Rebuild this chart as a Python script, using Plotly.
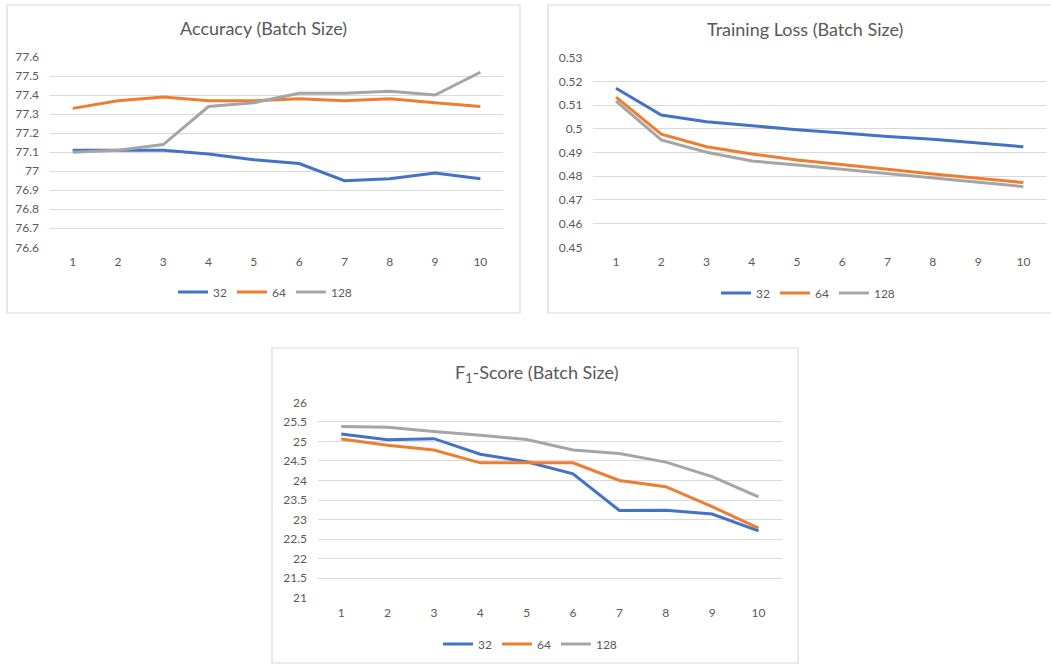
import plotly.graph_objects as go

# ---- data -------------------------------------------------------------
epochs = list(range(1, 11))
batch_sizes = ["32", "64", "128"]

acc_32 = [77.11, 77.11, 77.11, 77.09, 77.06, 77.04, 76.95, 76.96, 76.99, 76.96]
acc_64 = [77.33, 77.37, 77.39, 77.37, 77.37, 77.38, 77.37, 77.38, 77.36, 77.34]
acc_128 = [77.10, 77.11, 77.14, 77.34, 77.36, 77.41, 77.41, 77.42, 77.40, 77.52]

loss_32 = [0.5171, 0.5058, 0.5030, 0.5012, 0.4996, 0.4982, 0.4967, 0.4956, 0.4941, 0.4924]
loss_64 = [0.5134, 0.4977, 0.4924, 0.4894, 0.4868, 0.4847, 0.4829, 0.4809, 0.4791, 0.4773]
loss_128 = [0.5117, 0.4953, 0.4901, 0.4864, 0.4847, 0.4829, 0.4812, 0.4794, 0.4776, 0.4756]

f1_32 = [25.19, 25.04, 25.07, 24.67, 24.48, 24.17, 23.23, 23.24, 23.14, 22.71]
f1_64 = [25.06, 24.90, 24.78, 24.45, 24.45, 24.45, 24.00, 23.84, 23.33, 22.78]
f1_128 = [25.38, 25.36, 25.25, 25.16, 25.05, 24.78, 24.69, 24.47, 24.10, 23.58]

acc_ticks = [76.6, 76.7, 76.8, 76.9, 77.0, 77.1, 77.2, 77.3, 77.4, 77.5, 77.6]
acc_tick_labels = ["76.6", "76.7", "76.8", "76.9", "77", "77.1", "77.2", "77.3", "77.4", "77.5", "77.6"]
loss_ticks = [0.45, 0.46, 0.47, 0.48, 0.49, 0.50, 0.51, 0.52, 0.53]
loss_tick_labels = ["0.45", "0.46", "0.47", "0.48", "0.49", "0.5", "0.51", "0.52", "0.53"]
f1_ticks = [21, 21.5, 22, 22.5, 23, 23.5, 24, 24.5, 25, 25.5, 26]
f1_tick_labels = ["21", "21.5", "22", "22.5", "23", "23.5", "24", "24.5", "25", "25.5", "26"]

titles = ["Accuracy (Batch Size)", "Training Loss (Batch Size)", "F<sub>1</sub>-Score (Batch Size)"]

# ---- styling ----------------------------------------------------------
W, H = 1051, 665
FONT = "Lato, Calibri, sans-serif"
TEXT = "#595959"
GRID = "#d9d9d9"
COLORS = ["#4472C4", "#ED7D31", "#A5A5A5"]


def fx(x):
    return x / W


def fy(y):
    return 1 - y / H


# panel geometry in pixels: plot area (x0, x1, ytop, ybottom), frame box, title/legend centers
panels = [
    dict(plot=(50, 503, 57, 247.3), box=(7, 520, 5, 313), title=(263, 28), legend=(265, 292),
         series=[acc_32, acc_64, acc_128], ticks=acc_ticks, labels=acc_tick_labels, yr=[76.6, 77.6]),
    dict(plot=(593.4, 1046, 57.7, 247.3), box=(548, 1060, 5, 313), title=(805, 29), legend=(808, 293),
         series=[loss_32, loss_64, loss_128], ticks=loss_ticks, labels=loss_tick_labels, yr=[0.45, 0.53]),
    dict(plot=(318, 781.7, 402.3, 597.7), box=(272, 798, 348, 663), title=(536, 373), legend=(530, 644),
         series=[f1_32, f1_64, f1_128], ticks=f1_ticks, labels=f1_tick_labels, yr=[21, 26]),
]

fig = go.Figure()
layout = dict(
    width=W, height=H,
    margin=dict(l=0, r=0, t=0, b=0, autoexpand=False),
    paper_bgcolor="white", plot_bgcolor="white",
    font=dict(family=FONT, color=TEXT, size=12),
    shapes=[], annotations=[],
)

for i, p in enumerate(panels):
    n = "" if i == 0 else str(i + 1)
    xa, ya = "x" + n, "y" + n
    leg = "legend" + n
    x0, x1, yt, yb = p["plot"]
    layout["xaxis" + n] = dict(
        domain=[fx(x0), fx(x1)], anchor=ya, range=[0.5, 10.5],
        tickmode="array", tickvals=epochs, ticktext=[str(e) for e in epochs],
        showgrid=False, zeroline=False, showline=False, ticks="", automargin=False,
        tickfont=dict(size=12, color=TEXT), ticklabelstandoff=6, fixedrange=True,
    )
    layout["yaxis" + n] = dict(
        domain=[fy(yb), fy(yt)], anchor=xa, range=p["yr"],
        tickmode="array", tickvals=p["ticks"], ticktext=p["labels"],
        showgrid=True, gridcolor=GRID, gridwidth=1, zeroline=False, showline=False, ticks="",
        automargin=False,
        tickfont=dict(size=12, color=TEXT), ticklabelstandoff=10, fixedrange=True,
    )
    lx, ly = p["legend"]
    layout[leg] = dict(
        orientation="h", x=fx(lx), y=fy(ly), xanchor="center", yanchor="middle",
        font=dict(size=12, color=TEXT), bgcolor="rgba(0,0,0,0)", itemwidth=30,
    )
    bx0, bx1, by0, by1 = p["box"]
    layout["shapes"].append(dict(
        type="rect", xref="paper", yref="paper",
        x0=fx(bx0), x1=fx(bx1), y0=fy(by1), y1=fy(by0),
        line=dict(color=GRID, width=1.2), fillcolor="rgba(0,0,0,0)", layer="below",
    ))
    tx, ty = p["title"]
    layout["annotations"].append(dict(
        text=titles[i], xref="paper", yref="paper", x=fx(tx), y=fy(ty),
        xanchor="center", yanchor="middle", showarrow=False,
        font=dict(size=18, color=TEXT, family=FONT),
    ))
    for name, vals, col in zip(batch_sizes, p["series"], COLORS):
        fig.add_trace(go.Scatter(
            x=epochs, y=vals, name=name, mode="lines",
            line=dict(color=col, width=3), xaxis=xa, yaxis=ya,
            legend=leg, showlegend=True, hoverinfo="skip",
        ))

fig.update_layout(**layout)
fig.write_html("out.html")
